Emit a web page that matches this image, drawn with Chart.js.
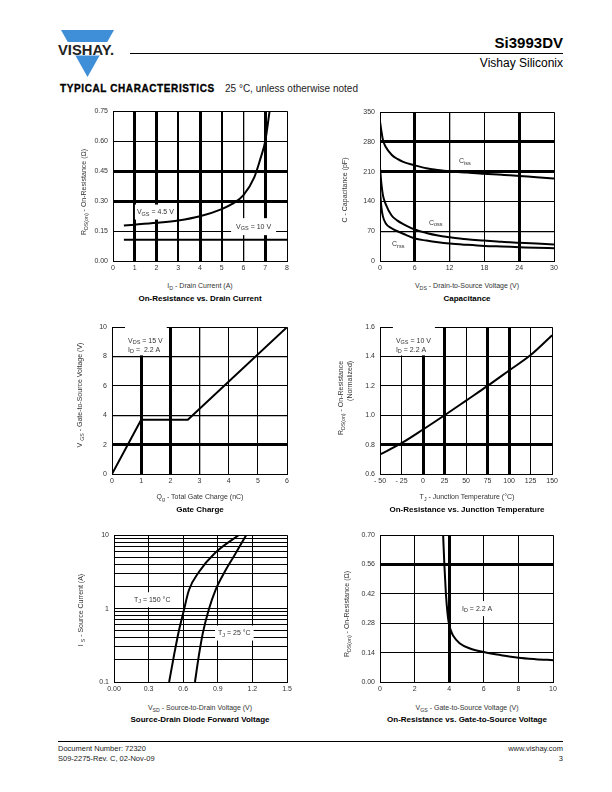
<!DOCTYPE html>
<html>
<head>
<meta charset="utf-8">
<script src="https://cdn.jsdelivr.net/npm/chart.js@4.4.1/dist/chart.umd.min.js"></script>
<style>
body { margin: 0; background: #fff; font-family: "Liberation Sans", Arial, Helvetica, sans-serif; }
#page { position: relative; width: 612px; height: 792px; overflow: hidden; }
.abs { position: absolute; white-space: nowrap; }
canvas { position: absolute; }
.xt { position: absolute; white-space: nowrap; font-size: 7px; color: #333; transform: translate(-50%, -50%); }
.yt { position: absolute; white-space: nowrap; font-size: 7px; color: #333; line-height: 9px; text-align: right; transform: translate(-50%, -50%) rotate(-90deg); }
.cap { position: absolute; white-space: nowrap; font-size: 8px; font-weight: bold; color: #000; transform: translate(-50%, -50%); }
sub { font-size: 75%; vertical-align: -2px; line-height: 0; }
</style>
</head>
<body>
<div id="page">
  <svg class="abs" style="left:55px;top:28px" width="65" height="52" viewBox="55 28 65 52">
    <polygon points="61,30 114,30 87.5,77" fill="#3f8fd8"/>
    <rect x="55" y="42" width="64" height="13.5" fill="#fff"/>
    <text x="58" y="54.5" font-family="Liberation Sans, Arial" font-weight="bold" font-size="15" textLength="56" lengthAdjust="spacingAndGlyphs" fill="#222">VISHAY.</text>
  </svg>
  <div class="abs" style="right:49px;top:34px;font-size:15px;font-weight:bold;line-height:18px">Si3993DV</div>
  <div class="abs" style="left:130px;top:53px;width:433px;border-top:1.5px solid #000"></div>
  <div class="abs" style="right:49px;top:56px;font-size:12px;line-height:14px">Vishay Siliconix</div>
  <div class="abs" style="left:60px;top:83px;font-size:10px;font-weight:bold;letter-spacing:0.6px;-webkit-text-stroke:0.3px #000;line-height:12px">TYPICAL CHARACTERISTICS</div>
  <div class="abs" style="left:225px;top:83px;font-size:10px;line-height:12px;color:#222">25 °C, unless otherwise noted</div>

  <canvas id="c1"></canvas>
  <canvas id="c2"></canvas>
  <canvas id="c3"></canvas>
  <canvas id="c4"></canvas>
  <canvas id="c5"></canvas>
  <canvas id="c6"></canvas>

  <div class="yt" style="left:83px;top:192px">R<sub>DS(on)</sub> - On-Resistance (Ω)</div>
  <div class="xt" style="left:200px;top:285px">I<sub>D</sub> -  Drain Current (A)</div>
  <div class="cap" style="left:200px;top:298px">On-Resistance vs. Drain Current</div>

  <div class="yt" style="left:344px;top:190px">C - Capacitance (pF)</div>
  <div class="xt" style="left:467px;top:285px">V<sub>DS</sub> - Drain-to-Source Voltage (V)</div>
  <div class="cap" style="left:467px;top:298px">Capacitance</div>

  <div class="yt" style="left:79px;top:395px">V <sub>GS</sub> - Gate-to-Source Voltage (V)</div>
  <div class="xt" style="left:200px;top:496px">Q<sub>g</sub> - Total Gate Charge (nC)</div>
  <div class="cap" style="left:200px;top:509px">Gate Charge</div>

  <div class="yt" style="left:345px;top:398px">R<sub>DS(on)</sub> - On-Resistance<br>(Normalized)</div>
  <div class="xt" style="left:467px;top:496px">T<sub>J</sub> - Junction Temperature (°C)</div>
  <div class="cap" style="left:467px;top:509px">On-Resistance vs. Junction Temperature</div>

  <div class="yt" style="left:80px;top:610px">I <sub>S</sub> - Source Current (A)</div>
  <div class="xt" style="left:200px;top:707px">V<sub>SD</sub> - Source-to-Drain Voltage (V)</div>
  <div class="cap" style="left:200px;top:719px">Source-Drain Diode Forward Voltage</div>

  <div class="yt" style="left:346px;top:614px">R<sub>DS(on)</sub> - On-Resistance (Ω)</div>
  <div class="xt" style="left:467px;top:707px">V<sub>GS</sub> - Gate-to-Source Voltage (V)</div>
  <div class="cap" style="left:467px;top:719px">On-Resistance vs. Gate-to-Source Voltage</div>

  <div class="abs" style="left:58px;top:741px;width:505px;border-top:1px solid #000"></div>
  <div class="abs" style="left:58px;top:744px;font-size:7.5px;line-height:10px;color:#222">Document Number: 72320<br>S09-2275-Rev. C, 02-Nov-09</div>
  <div class="abs" style="right:49px;top:744px;font-size:7.5px;line-height:10px;color:#222;text-align:right">www.vishay.com<br>3</div>
</div>

<script>
// On-Resistance vs. Drain Current
const idTicks = [0, 1, 2, 3, 4, 5, 6, 7, 8];
const rdsTicks = [0, 0.15, 0.30, 0.45, 0.60, 0.75];
const rdsTickLabels = ['0.00', '0.15', '0.30', '0.45', '0.60', '0.75'];
const idVgs45 = [0.5, 1, 2, 3, 4, 5, 5.5, 6, 6.5, 6.8, 7, 7.2];
const rdsVgs45 = [0.178, 0.182, 0.191, 0.203, 0.224, 0.26, 0.287, 0.33, 0.42, 0.52, 0.6, 0.75];
const idVgs10 = [0.5, 8];
const rdsVgs10 = [0.107, 0.107];

// Capacitance
const vdsTicks = [0, 6, 12, 18, 24, 30];
const capTicks = [0, 70, 140, 210, 280, 350];
const vds = [0, 0.25, 0.5, 1, 2, 3, 4, 6, 8, 10, 12, 15, 18, 21, 24, 27, 30];
const ciss = [328, 305, 285, 268, 250, 240, 233, 225, 218, 214, 211, 208, 205, 203, 200, 197, 194];
const coss = [220, 180, 155, 133, 107, 95, 87, 74, 66, 60, 56, 51, 48, 45, 43, 41, 39];
const crss = [165, 125, 105, 88, 77, 70, 64, 53, 48, 44, 41, 38, 35.5, 34, 32.5, 31, 30];

// Gate Charge
const qgTicks = [0, 1, 2, 3, 4, 5, 6];
const vgsTicks = [0, 2, 4, 6, 8, 10];
const qg = [0, 1, 2.6, 6];
const vgsCharge = [0, 3.7, 3.7, 10];

// On-Resistance vs. Junction Temperature
const tempTicks = [-50, -25, 0, 25, 50, 75, 100, 125, 150];
const tempTickLabels = ['- 50', '- 25', '0', '25', '50', '75', '100', '125', '150'];
const normTicks = [0.6, 0.8, 1.0, 1.2, 1.4, 1.6];
const normTickLabels = ['0.6', '0.8', '1.0', '1.2', '1.4', '1.6'];
const tj = [-50, -25, 0, 25, 50, 75, 100, 125, 150];
const rdsNorm = [0.733, 0.81, 0.903, 1.0, 1.1, 1.2, 1.305, 1.41, 1.545];

// Source-Drain Diode Forward Voltage
const vsdTicks = [0, 0.3, 0.6, 0.9, 1.2, 1.5];
const vsdTickLabels = ['0.00', '0.3', '0.6', '0.9', '1.2', '1.5'];
const isTicks = [0.1, 0.2, 0.3, 0.4, 0.5, 0.6, 0.7, 0.8, 0.9, 1, 2, 3, 4, 5, 6, 7, 8, 9, 10];
const isTickLabels = ['0.1', '', '', '', '', '', '', '', '', '1', '', '', '', '', '', '', '', '', '10'];
const vsd150 = [0.478, 0.52, 0.565, 0.6, 0.65, 0.736, 0.88, 1.08];
const is150 = [0.1, 0.23, 0.52, 0.87, 1.79, 3.15, 5.8, 10];
const vsd25 = [0.702, 0.736, 0.771, 0.822, 0.88, 0.966, 1.05, 1.146];
const is25 = [0.1, 0.23, 0.47, 0.97, 1.79, 3.3, 5.5, 10];

// On-Resistance vs. Gate-to-Source Voltage
const vgsTicks2 = [0, 2, 4, 6, 8, 10];
const rdsTicks2 = [0, 0.14, 0.28, 0.42, 0.56, 0.70];
const rdsTickLabels2 = ['0.00', '0.14', '0.28', '0.42', '0.56', '0.70'];
const vgsSweep = [3.65, 3.72, 3.81, 3.9, 3.98, 4.1, 4.23, 4.6, 5.2, 6, 7, 8, 9, 10];
const rdsSweep = [0.70, 0.56, 0.42, 0.33, 0.28, 0.245, 0.22, 0.185, 0.16, 0.143, 0.128, 0.116, 0.109, 0.104];

const FONT = '"Liberation Sans", Arial, Helvetica, sans-serif';
const Y_W = 40, X_H = 20, PAD_T = 6, PAD_R = 8;

function axis(pos, o) {
    return {
        type: o.type || 'linear',
        position: pos === 'x' ? 'bottom' : 'left',
        min: o.min,
        max: o.max,
        afterBuildTicks: s => { s.ticks = o.ticks.map(v => ({ value: v })); },
        afterFit: s => { if (pos === 'x') s.height = X_H; else s.width = Y_W; },
        grid: {
            color: '#000',
            drawTicks: false,
            lineWidth: c => (c.tick && o.widths && o.widths[c.tick.value]) || 1
        },
        border: { color: '#000', width: 1 },
        ticks: {
            autoSkip: false,
            maxRotation: 0,
            padding: pos === 'x' ? 3 : 5,
            color: '#333',
            font: { family: FONT, size: 7 },
            callback: (v, i) => o.labels ? o.labels[i] : String(o.ticks[i])
        }
    };
}

// text labels inside the plot, placed in data units, white box behind
function notesPlugin(items) {
    return {
        id: 'notes',
        afterDatasetsDraw(chart) {
            const { ctx, scales } = chart;
            const big = '7px ' + FONT, small = '5.5px ' + FONT;
            const lh = 9;
            ctx.save();
            ctx.textBaseline = 'middle';
            items.forEach(n => {
                const x0 = scales.x.getPixelForValue(n.x);
                const y0 = scales.y.getPixelForValue(n.y);
                let w = 0;
                n.lines.forEach(line => {
                    let lw = 0;
                    line.forEach(p => { ctx.font = p[1] ? small : big; lw += ctx.measureText(p[0]).width; });
                    w = Math.max(w, lw);
                });
                const p = n.pad || [2, 3, 2, 3];
                ctx.fillStyle = '#fff';
                ctx.fillRect(x0 - p[0], y0 - lh / 2 - p[1], w + p[0] + p[2], lh * n.lines.length + p[1] + p[3]);
                ctx.fillStyle = '#333';
                n.lines.forEach((line, k) => {
                    let x = x0;
                    const y = y0 + k * lh;
                    line.forEach(q => {
                        ctx.font = q[1] ? small : big;
                        ctx.fillText(q[0], x, q[1] ? y + 2 : y);
                        x += ctx.measureText(q[0]).width;
                    });
                });
            });
            ctx.restore();
        }
    };
}

function makeChart(id, area, xAx, yAx, series, notes) {
    const cv = document.getElementById(id);
    const w = area.r - area.l + Y_W + PAD_R;
    const h = area.b - area.t + PAD_T + X_H;
    cv.width = w;
    cv.height = h;
    cv.style.left = (area.l - Y_W) + 'px';
    cv.style.top = (area.t - PAD_T) + 'px';
    cv.style.width = w + 'px';
    cv.style.height = h + 'px';
    return new Chart(cv, {
        type: 'line',
        data: {
            datasets: series.map(s => ({
                data: s.x.map((x, i) => ({ x: x, y: s.y[i] })),
                borderColor: '#000',
                borderWidth: s.w || 2,
                pointRadius: 0,
                fill: false,
                cubicInterpolationMode: s.straight ? 'default' : 'monotone',
                tension: s.straight ? 0 : 0.4
            }))
        },
        options: {
            responsive: false,
            animation: false,
            layout: { padding: { top: PAD_T, right: PAD_R, left: 0, bottom: 0 } },
            scales: { x: axis('x', xAx), y: axis('y', yAx) },
            plugins: { legend: { display: false }, tooltip: { enabled: false } }
        },
        plugins: [notesPlugin(notes)]
    });
}

makeChart('c1', { l: 113, r: 287, t: 108, b: 261 },
    { min: 0, max: 8, ticks: idTicks, widths: { 1: 3, 2: 3, 3: 2, 4: 3, 5: 2, 6: 1.3, 7: 3 } },
    { min: 0, max: 0.75, ticks: rdsTicks, labels: rdsTickLabels, widths: { 0.3: 3, 0.45: 3 } },
    [{ x: idVgs45, y: rdsVgs45 }, { x: idVgs10, y: rdsVgs10, straight: true }],
    [
        { x: 1.1, y: 0.245, lines: [[['V'], ['GS', 1], [' = 4.5 V']]] },
        { x: 5.66, y: 0.172, lines: [[['V'], ['GS', 1], [' = 10 V']]], pad: [5, 4, 5, 4] }
    ]);

makeChart('c2', { l: 380, r: 554, t: 109, b: 261 },
    { min: 0, max: 30, ticks: vdsTicks, widths: { 6: 3, 12: 1.3, 24: 3 } },
    { min: 0, max: 350, ticks: capTicks, widths: { 70: 1.3, 210: 3, 280: 3 } },
    [{ x: vds, y: ciss }, { x: vds, y: coss }, { x: vds, y: crss }],
    [
        { x: 13.6, y: 234, lines: [[['C'], ['iss', 1]]] },
        { x: 8.45, y: 90, lines: [[['C'], ['oss', 1]]] },
        { x: 2.07, y: 39.4, lines: [[['C'], ['rss', 1]]], pad: [1, 2, 1, 1] }
    ]);

makeChart('c3', { l: 112, r: 287, t: 324, b: 474 },
    { min: 0, max: 6, ticks: qgTicks, widths: { 1: 3, 2: 3, 3: 1.3 } },
    { min: 0, max: 10, ticks: vgsTicks, widths: { 2: 3, 4: 1.3, 8: 1.3 } },
    [{ x: qg, y: vgsCharge, straight: true }],
    [
        { x: 0.55, y: 9.07, lines: [[['V'], ['DS', 1], [' = 15 V']], [['I'], ['D', 1], [' =  2.2 A']]], pad: [3, 10, 4, 1] }
    ]);

makeChart('c4', { l: 380, r: 553, t: 324, b: 474 },
    { min: -50, max: 150, ticks: tempTicks, labels: tempTickLabels, widths: { 0: 3, 25: 3, 75: 3, 100: 3 } },
    { min: 0.6, max: 1.6, ticks: normTicks, labels: normTickLabels, widths: { 0.8: 3 } },
    [{ x: tj, y: rdsNorm }],
    [
        { x: -31.5, y: 1.507, lines: [[['V'], ['GS', 1], [' = 10 V']], [['I'], ['D', 1], [' = 2.2 A']]], pad: [3, 10, 4, 1] }
    ]);

makeChart('c5', { l: 114, r: 287, t: 532, b: 682 },
    { min: 0, max: 1.5, ticks: vsdTicks, labels: vsdTickLabels },
    { type: 'logarithmic', min: 0.1, max: 10, ticks: isTicks, labels: isTickLabels },
    [{ x: vsd150, y: is150 }, { x: vsd25, y: is25 }],
    [
        { x: 0.173, y: 1.32, lines: [[['T'], ['J', 1], [' = 150 °C']]], pad: [3, 3, 3, 3] },
        { x: 0.902, y: 0.464, lines: [[['T'], ['J', 1], [' = 25 °C']]], pad: [3, 3, 3, 3] }
    ]);

makeChart('c6', { l: 380, r: 553, t: 532, b: 682 },
    { min: 0, max: 10, ticks: vgsTicks2, widths: { 4: 3 } },
    { min: 0, max: 0.7, ticks: rdsTicks2, labels: rdsTickLabels2, widths: { 0.56: 3 } },
    [{ x: vgsSweep, y: rdsSweep }],
    [
        { x: 4.74, y: 0.35, lines: [[['I'], ['D', 1], [' = 2.2 A']]] }
    ]);
</script>
</body>
</html>
